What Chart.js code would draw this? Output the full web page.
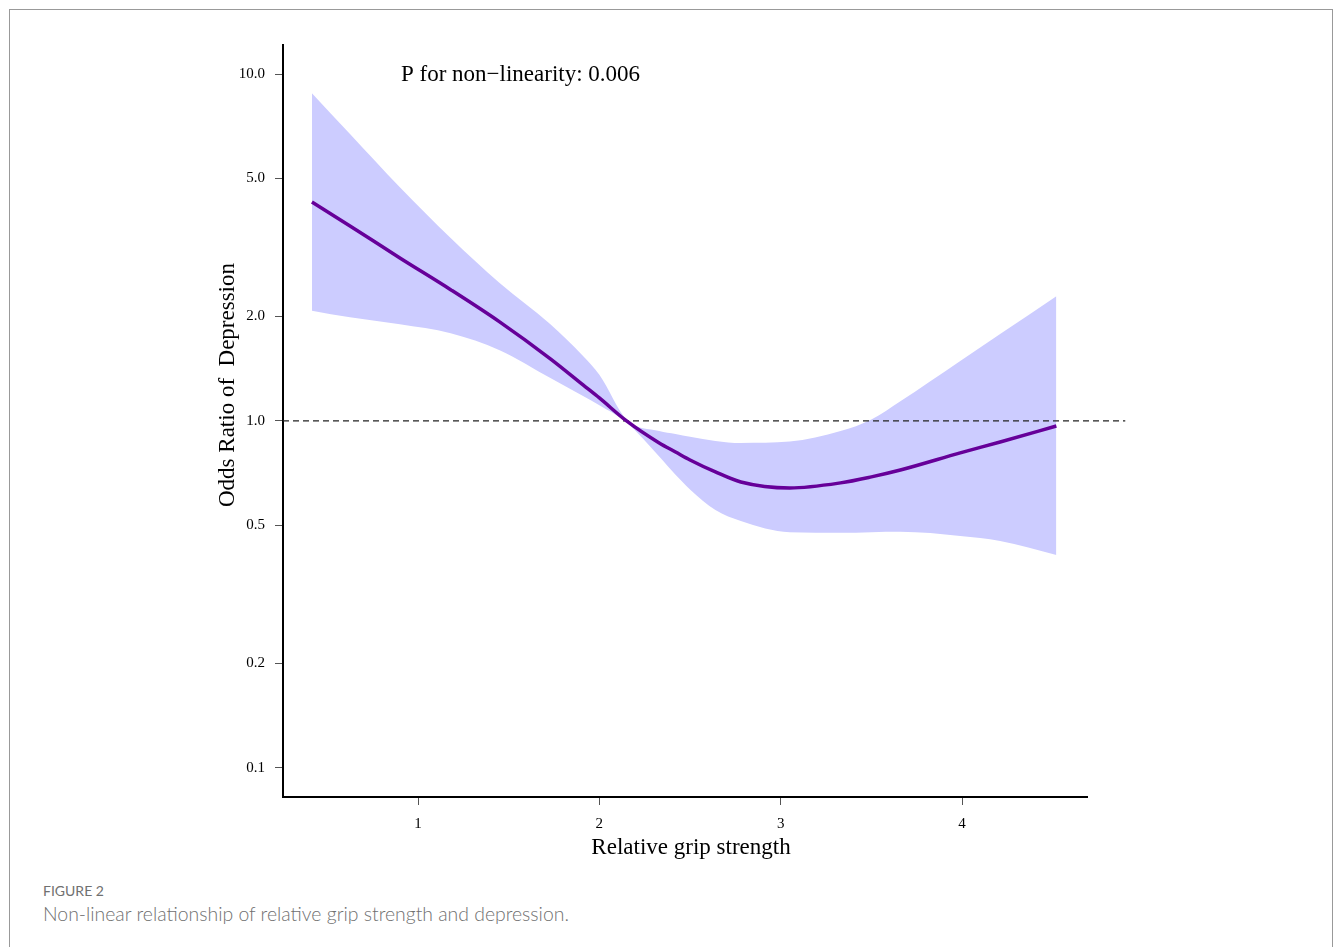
<!DOCTYPE html>
<html lang="en">
<head>
    <meta charset="UTF-8">
    <title>Figure 2</title>
    <style>
        body { margin: 0; background: #fff; }
        #marco { position: absolute; left: 9px; top: 9px; width: 1322px; height: 960px; border: 1px solid #999; border-bottom: none; }
        #lienzo { position: absolute; left: 0; top: 0; width: 1333px; height: 860px; }
        .fig { position: absolute; left: 43px; font-family: Lato, "Open Sans", sans-serif; color: #707070; }
        #figNum { top: 882px; font-size: 14px; }
        #figTxt { top: 902px; font-size: 19.4px; font-weight: 300; }
    </style>
</head>
<body>
    <div id="marco"></div>
    <div id="lienzo"><canvas id="grafico"></canvas></div>
    <div class="fig" id="figNum">FIGURE 2</div>
    <div class="fig" id="figTxt">Non-linear relationship of relative grip strength and depression.</div>

    <script src="https://cdn.jsdelivr.net/npm/chart.js"></script>
    <script>
        // datos
        let grip = [0.415, 0.625, 0.90, 1.18, 1.45, 1.73, 1.91, 2.00, 2.15, 2.33, 2.42, 2.50, 2.64, 2.78, 3.05, 3.33, 3.50, 3.66, 3.99, 4.21, 4.52]
        let orValues = [4.28, 3.65, 2.95, 2.39, 1.93, 1.51, 1.27, 1.165, 1.0, 0.864, 0.814, 0.772, 0.713, 0.667, 0.641, 0.663, 0.69, 0.722, 0.809, 0.870, 0.967]
        let upperCI = [8.81, 6.72, 4.72, 3.37, 2.50, 1.90, 1.54, 1.36, 1.01, 0.935, 0.917, 0.90, 0.876, 0.864, 0.872, 0.935, 1.01, 1.14, 1.49, 1.78, 2.29]
        let lowerCI = [2.08, 1.99, 1.90, 1.79, 1.60, 1.33, 1.18, 1.11, 0.99, 0.79, 0.70, 0.635, 0.554, 0.515, 0.478, 0.476, 0.478, 0.479, 0.466, 0.451, 0.411]
        let refX = [0.2555, 4.90]
        let refY = [1, 1]
        let yTicks = [0.1, 0.2, 0.5, 1, 2, 5, 10]
        let xTicks = [1, 2, 3, 4]

        let pares = (xs, ys) => xs.map((x, i) => ({ x: x, y: ys[i] }))

        let textos = {
            id: 'textos',
            afterDraw(chart) {
                let ctx = chart.ctx
                ctx.save()
                ctx.fillStyle = '#000'
                ctx.font = '23px "Liberation Serif", "Times New Roman", serif'
                ctx.textBaseline = 'middle'
                ctx.textAlign = 'left'
                ctx.fillText('P for non\u2212linearity: 0.006', 401, 75)
                ctx.textAlign = 'center'
                ctx.fillText('Relative grip strength', 691, 848)
                ctx.translate(228, 385)
                ctx.rotate(-Math.PI / 2)
                ctx.fillText('Odds Ratio of  Depression', 0, 0)
                ctx.restore()
            }
        }

        new Chart(document.querySelector('#grafico'), {
            type: 'line',
            data: {
                datasets: [
                    {
                        data: pares(grip, orValues),
                        borderColor: '#660099',
                        borderWidth: 3.5,
                        pointRadius: 0,
                        cubicInterpolationMode: 'monotone',
                        fill: false
                    },
                    {
                        data: pares(refX, refY),
                        borderColor: '#222',
                        borderWidth: 1.2,
                        borderDash: [6, 4],
                        pointRadius: 0,
                        clip: false,
                        fill: false
                    },
                    {
                        data: pares(grip, upperCI),
                        borderWidth: 0,
                        borderColor: 'rgba(0,0,0,0)',
                        backgroundColor: '#ccccff',
                        pointRadius: 0,
                        cubicInterpolationMode: 'monotone',
                        fill: '+1'
                    },
                    {
                        data: pares(grip, lowerCI),
                        borderWidth: 0,
                        borderColor: 'rgba(0,0,0,0)',
                        pointRadius: 0,
                        cubicInterpolationMode: 'monotone',
                        fill: false
                    }
                ]
            },
            options: {
                responsive: true,
                maintainAspectRatio: false,
                animation: false,
                layout: { padding: { top: 45, right: 246, left: 0, bottom: 0 } },
                plugins: { legend: { display: false }, tooltip: { enabled: false } },
                scales: {
                    x: {
                        type: 'linear',
                        min: 0.2555,
                        max: 4.689,
                        afterBuildTicks: s => { s.ticks = xTicks.map(v => ({ value: v })) },
                        afterFit: s => { s.height = 63 },
                        grid: { drawOnChartArea: false, drawTicks: true, tickLength: 8, color: '#555', tickWidth: 1 },
                        border: { display: true, color: '#000', width: 2 },
                        ticks: {
                            color: '#000',
                            padding: 10,
                            font: { family: '"Liberation Serif", serif', size: 15 },
                            callback: v => String(v)
                        }
                    },
                    y: {
                        type: 'logarithmic',
                        min: 0.0824,
                        max: 12.13,
                        afterBuildTicks: s => { s.ticks = yTicks.map(v => ({ value: v })) },
                        afterFit: s => { s.width = 283 },
                        grid: { drawOnChartArea: false, drawTicks: true, tickLength: 8, color: '#555', tickWidth: 1 },
                        border: { display: true, color: '#000', width: 2 },
                        ticks: {
                            color: '#000',
                            padding: 10,
                            autoSkip: false,
                            font: { family: '"Liberation Serif", serif', size: 15 },
                            callback: v => Number(v).toFixed(1)
                        }
                    }
                }
            },
            plugins: [textos]
        })
    </script>
</body>
</html>
